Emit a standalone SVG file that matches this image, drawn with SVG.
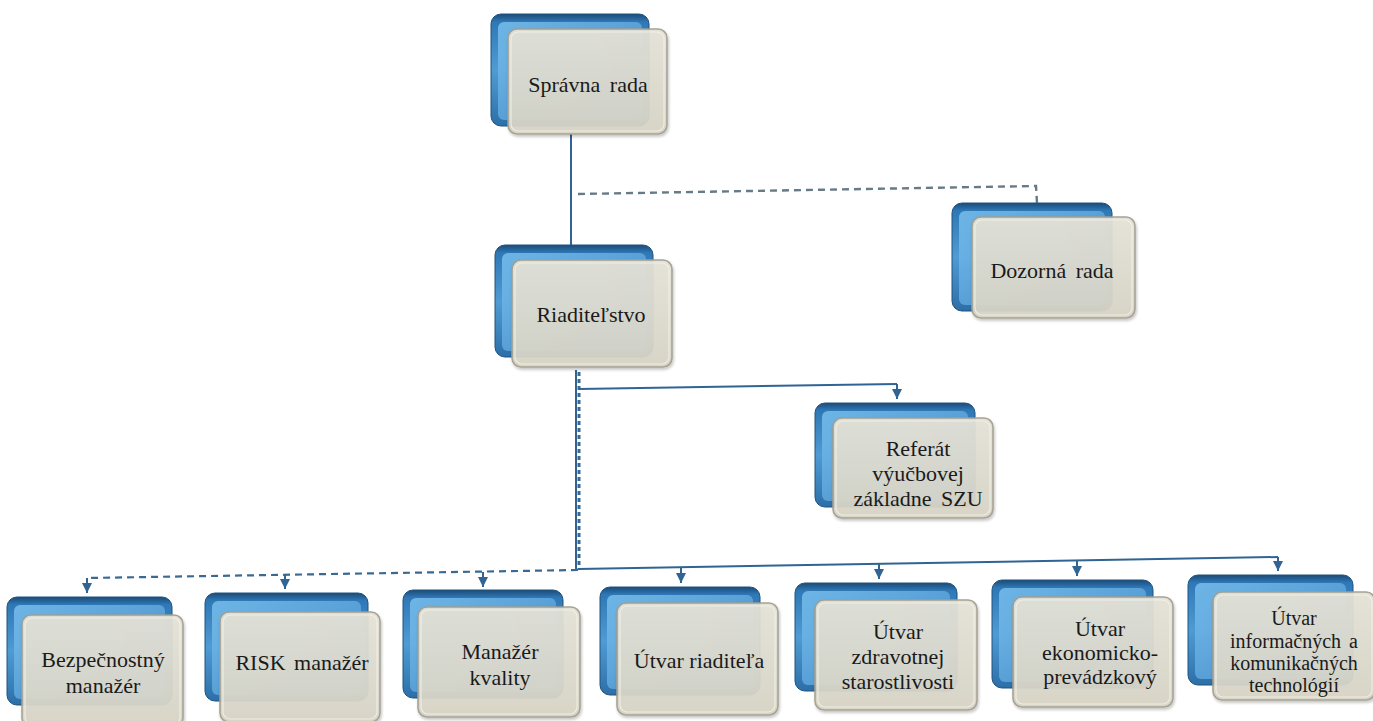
<svg xmlns="http://www.w3.org/2000/svg" width="1373" height="721" viewBox="0 0 1373 721">
<defs>
  <linearGradient id="gBlue" x1="0" y1="0" x2="0" y2="1">
    <stop offset="0" stop-color="#1b4b77"/>
    <stop offset="0.07" stop-color="#2f78b6"/>
    <stop offset="0.5" stop-color="#4f9bd4"/>
    <stop offset="1" stop-color="#2d6fa8"/>
  </linearGradient>
  <linearGradient id="gBlueIn" x1="0" y1="0" x2="1" y2="1">
    <stop offset="0" stop-color="#79bfee"/>
    <stop offset="1" stop-color="#4690cc"/>
  </linearGradient>
  <linearGradient id="gFront" x1="0" y1="0" x2="0" y2="1">
    <stop offset="0" stop-color="#e4e1d6"/>
    <stop offset="1" stop-color="#d6d3c5"/>
  </linearGradient>
  <filter id="sh" x="-10%" y="-10%" width="125%" height="125%">
    <feDropShadow dx="1" dy="2" stdDeviation="1.5" flood-color="#000" flood-opacity="0.25"/>
  </filter>
  <marker id="arr" viewBox="0 0 10 10" refX="10" refY="5" markerWidth="10" markerHeight="10" markerUnits="userSpaceOnUse" orient="auto">
    <path d="M0,0 L10,5 L0,10 Z" fill="#2f6494"/>
  </marker>
  <style>
    .back{fill:url(#gBlue);stroke:#1f527f;stroke-width:1}
    .backIn{fill:url(#gBlueIn);opacity:0.85}
    .front{fill:url(#gFront);stroke:#a29f90;stroke-width:1.6;opacity:0.95;filter:url(#sh)}
    .frontIn{fill:none;stroke:#f4f2ea;stroke-width:1.2;opacity:0.8}
    .t{font-size:22px;fill:#1a1a1a;text-anchor:middle}
    .s20{font-size:20px}
    .solid{fill:none;stroke:#2f6494;stroke-width:2}
    .dash{fill:none;stroke:#3a6a93;stroke-width:2.2;stroke-dasharray:7 5}
    .dashG{fill:none;stroke:#667a88;stroke-width:2.4;stroke-dasharray:7 5}
    .arrow{fill:none;stroke:#2f6494;stroke-width:2;marker-end:url(#arr)}
  </style>
</defs>
<rect width="1373" height="721" fill="#ffffff"/>

<g id="connectors">
  <path class="solid" d="M571,134 L571,245"/>
  <path class="dashG" d="M578,194 L1036,186 L1037,203"/>
  <path class="solid" d="M576,370 L576,569"/>
  <path class="dash" style="stroke-dasharray:4 3;stroke-width:3" d="M579,372 L579,569"/>
  <path class="solid" d="M579,389 L897,384"/>
  <path class="arrow" d="M897,384 L897,399"/>
  <path class="solid" d="M578,569 L1278,557"/>
  <path class="dash" d="M578,570 L87,578"/>
  <path class="arrow" d="M87,578 L87,593"/>
  <path class="arrow" d="M285,575 L285,589"/>
  <path class="arrow" d="M483,572 L483,587"/>
  <path class="arrow" d="M681,567 L681,583"/>
  <path class="arrow" d="M879,564 L879,579"/>
  <path class="arrow" d="M1077,561 L1077,576"/>
  <path class="arrow" d="M1278,557 L1278,571"/>
</g>

<g font-family="'Liberation Serif', 'Times New Roman', 'DejaVu Serif', serif">
<g id="n-spravna-rada">
  <rect class="back" x="491" y="14" width="158" height="112" rx="10"/>
  <rect class="backIn" x="498" y="22" width="144" height="98" rx="6"/>
  <rect class="front" x="508" y="29" width="159" height="105" rx="9"/>
  <rect class="frontIn" x="511" y="32" width="153" height="99" rx="7"/>
  <text class="t" x="588" y="92" word-spacing="4">Správna rada</text>
</g>

<g id="n-riaditelstvo">
  <rect class="back" x="495" y="245" width="158" height="112" rx="10"/>
  <rect class="backIn" x="502" y="253" width="144" height="98" rx="6"/>
  <rect class="front" x="512" y="260" width="160" height="107" rx="9"/>
  <rect class="frontIn" x="515" y="263" width="154" height="101" rx="7"/>
  <text class="t" x="591" y="322">Riaditeľstvo</text>
</g>

<g id="n-dozorna-rada">
  <rect class="back" x="952" y="203" width="160" height="108" rx="10"/>
  <rect class="backIn" x="959" y="211" width="146" height="94" rx="6"/>
  <rect class="front" x="972" y="217" width="163" height="101" rx="9"/>
  <rect class="frontIn" x="975" y="220" width="157" height="95" rx="7"/>
  <text class="t" x="1052" y="278" word-spacing="4">Dozorná rada</text>
</g>

<g id="n-referat">
  <rect class="back" x="815" y="403" width="160" height="104" rx="10"/>
  <rect class="backIn" x="822" y="411" width="146" height="90" rx="6"/>
  <rect class="front" x="833" y="418" width="160" height="100" rx="9"/>
  <rect class="frontIn" x="836" y="421" width="154" height="94" rx="7"/>
  <text class="t" x="918" y="456">Referát</text>
  <text class="t" x="918" y="481">výučbovej</text>
  <text class="t" x="918" y="506" word-spacing="4">základne SZU</text>
</g>

<g id="n-bezpecnostny">
  <rect class="back" x="7" y="597" width="165" height="108" rx="10"/>
  <rect class="backIn" x="14" y="605" width="151" height="94" rx="6"/>
  <rect class="front" x="22" y="615" width="161" height="112" rx="9"/>
  <rect class="frontIn" x="25" y="618" width="155" height="106" rx="7"/>
  <text class="t" x="103" y="667">Bezpečnostný</text>
  <text class="t" x="103" y="693">manažér</text>
</g>

<g id="n-risk">
  <rect class="back" x="205" y="593" width="163" height="108" rx="10"/>
  <rect class="backIn" x="212" y="601" width="149" height="94" rx="6"/>
  <rect class="front" x="220" y="612" width="160" height="110" rx="9"/>
  <rect class="frontIn" x="223" y="615" width="154" height="104" rx="7"/>
  <text class="t" x="302" y="670" word-spacing="3">RISK manažér</text>
</g>

<g id="n-kvality">
  <rect class="back" x="403" y="590" width="160" height="108" rx="10"/>
  <rect class="backIn" x="410" y="598" width="146" height="94" rx="6"/>
  <rect class="front" x="418" y="607" width="162" height="110" rx="9"/>
  <rect class="frontIn" x="421" y="610" width="156" height="104" rx="7"/>
  <text class="t" x="500" y="659">Manažér</text>
  <text class="t" x="500" y="685">kvality</text>
</g>

<g id="n-utvar-riaditela">
  <rect class="back" x="600" y="587" width="160" height="108" rx="10"/>
  <rect class="backIn" x="607" y="595" width="146" height="94" rx="6"/>
  <rect class="front" x="617" y="603" width="161" height="112" rx="9"/>
  <rect class="frontIn" x="620" y="606" width="155" height="106" rx="7"/>
  <text class="t" x="699" y="668">Útvar riaditeľa</text>
</g>

<g id="n-zdravotnej">
  <rect class="back" x="795" y="583" width="162" height="108" rx="10"/>
  <rect class="backIn" x="802" y="591" width="148" height="94" rx="6"/>
  <rect class="front" x="815" y="600" width="162" height="110" rx="9"/>
  <rect class="frontIn" x="818" y="603" width="156" height="104" rx="7"/>
  <text class="t" x="898" y="639">Útvar</text>
  <text class="t" x="898" y="664">zdravotnej</text>
  <text class="t" x="898" y="689">starostlivosti</text>
</g>

<g id="n-ekonomicko">
  <rect class="back" x="992" y="580" width="161" height="108" rx="10"/>
  <rect class="backIn" x="999" y="588" width="147" height="94" rx="6"/>
  <rect class="front" x="1013" y="597" width="160" height="110" rx="9"/>
  <rect class="frontIn" x="1016" y="600" width="154" height="104" rx="7"/>
  <text class="t" x="1100" y="636">Útvar</text>
  <text class="t" x="1100" y="660">ekonomicko-</text>
  <text class="t" x="1100" y="684">prevádzkový</text>
</g>

<g id="n-informacnych">
  <rect class="back" x="1188" y="575" width="165" height="110" rx="10"/>
  <rect class="backIn" x="1195" y="583" width="151" height="96" rx="6"/>
  <rect class="front" x="1213" y="592" width="162" height="108" rx="9"/>
  <rect class="frontIn" x="1216" y="595" width="156" height="102" rx="7"/>
  <text class="t s20" x="1294" y="625">Útvar</text>
  <text class="t s20" x="1294" y="648" word-spacing="3">informačných a</text>
  <text class="t s20" x="1294" y="670">komunikačných</text>
  <text class="t s20" x="1294" y="692">technológií</text>
</g>
</g>
</svg>
